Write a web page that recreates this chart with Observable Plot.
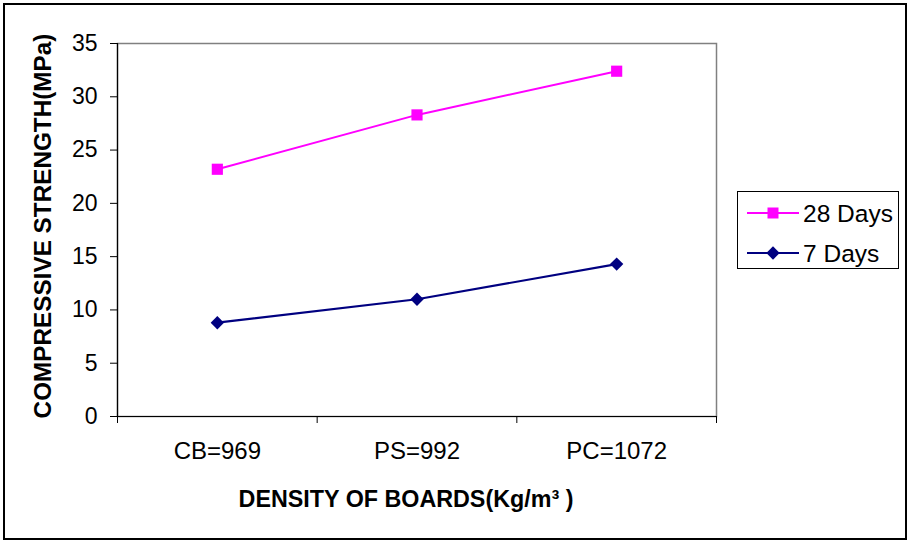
<!DOCTYPE html>
<html>
<head>
<meta charset="utf-8">
<script src="https://cdn.jsdelivr.net/npm/d3@7"></script>
<script src="https://cdn.jsdelivr.net/npm/@observablehq/plot@0.6"></script>
<style>
  html, body { margin: 0; padding: 0; background: #fff; }
  #wrap { position: relative; width: 909px; height: 542px; overflow: hidden; font-family: "Liberation Sans", Arial, sans-serif; }
  #outer { position: absolute; left: 3px; top: 3px; width: 900px; height: 533px; border: 2px solid #000; pointer-events: none; }
  #legend { position: absolute; left: 737px; top: 191px; width: 160px; height: 76px; border: 1px solid #000; background: #fff; }
  #legend svg { display: block; }
</style>
</head>
<body>
<div id="wrap"><div id="outer"></div><div id="legend"></div></div>
<script>
const categories = ["CB=969", "PS=992", "PC=1072"];
const days28 = [23.2, 28.3, 32.4];
const days7 = [8.8, 11.0, 14.3];
const yTicks = [0, 5, 10, 15, 20, 25, 30, 35];
const seriesNames = ["28 Days", "7 Days"];
const seriesColors = ["#FF00FF", "#000080"];
const xTitle = "DENSITY OF BOARDS(Kg/m\u00B3 )";
const yTitle = "COMPRESSIVE STRENGTH(MPa)";

const rows = [];
categories.forEach((c, i) => {
  rows.push({idx: i + 0.5, cat: c, value: days28[i], series: seriesNames[0]});
  rows.push({idx: i + 0.5, cat: c, value: days7[i], series: seriesNames[1]});
});
const r28 = rows.filter(d => d.series === seriesNames[0]);
const r7 = rows.filter(d => d.series === seriesNames[1]);
const bandEdges = d3.range(categories.length + 1);
const centers = categories.map((c, i) => i + 0.5);

const chart = Plot.plot({
  width: 909,
  height: 542,
  marginLeft: 117,
  marginRight: 193,
  marginTop: 43,
  marginBottom: 126,
  style: {fontFamily: '"Liberation Sans", Arial, sans-serif', fontSize: "23px", color: "#000", background: "transparent"},
  x: {type: "linear", domain: [0, categories.length]},
  y: {domain: [0, 35]},
  marks: [
    Plot.frame({stroke: "#808080", strokeWidth: 1.5}),
    Plot.ruleX([0], {stroke: "#000", strokeWidth: 1.2}),
    Plot.ruleY([0], {stroke: "#000", strokeWidth: 1.2}),
    Plot.axisY({ticks: yTicks, tickSize: 7, tickPadding: 13, label: null, stroke: "#000", fontSize: 23}),
    Plot.axisX({ticks: bandEdges, tickSize: 7, tickFormat: () => "", label: null, stroke: "#000"}),
    Plot.axisX({ticks: centers, tickSize: 0, tickPadding: 25, tickFormat: d => categories[Math.floor(d)], label: null, fontSize: 24}),
    Plot.line(r28, {x: "idx", y: "value", stroke: seriesColors[0], strokeWidth: 2}),
    Plot.line(r7, {x: "idx", y: "value", stroke: seriesColors[1], strokeWidth: 2.2}),
    Plot.dot(r28, {x: "idx", y: "value", symbol: "square", r: 6.3, fill: seriesColors[0], stroke: "none"}),
    Plot.dot(r7, {x: "idx", y: "value", symbol: "diamond2", r: 6, fill: seriesColors[1], stroke: "none"}),
    Plot.text([xTitle], {frameAnchor: "bottom", text: d => d, dy: 83, dx: -11, textAnchor: "middle", lineAnchor: "middle", fontWeight: "bold", fontSize: 23.3}),
    Plot.text([yTitle], {frameAnchor: "left", text: d => d, rotate: -90, dx: -74, dy: -4, textAnchor: "middle", lineAnchor: "middle", fontWeight: "bold", fontSize: 24.3})
  ]
});
document.getElementById("wrap").prepend(chart);

// Legend
const leg = d3.select("#legend").append("svg").attr("width", 160).attr("height", 76);
const items = leg.selectAll("g").data(seriesNames).join("g")
  .attr("transform", (d, i) => `translate(0, ${21 + i * 40})`);
items.append("line").attr("x1", 9).attr("x2", 61).attr("y1", 0).attr("y2", 0)
  .attr("stroke", (d, i) => seriesColors[i]).attr("stroke-width", 2);
items.append("path")
  .attr("transform", "translate(35,0)")
  .attr("d", (d, i) => i === 0 ? d3.symbol(d3.symbolSquare, 121)() : d3.symbol(d3.symbolDiamond2, 113)())
  .attr("fill", (d, i) => seriesColors[i]);
items.append("text").attr("x", 65).attr("y", 0).attr("dy", "0.35em")
  .attr("font-size", 24.5).attr("font-family", '"Liberation Sans", Arial, sans-serif')
  .text(d => d);
</script>
</body>
</html>
